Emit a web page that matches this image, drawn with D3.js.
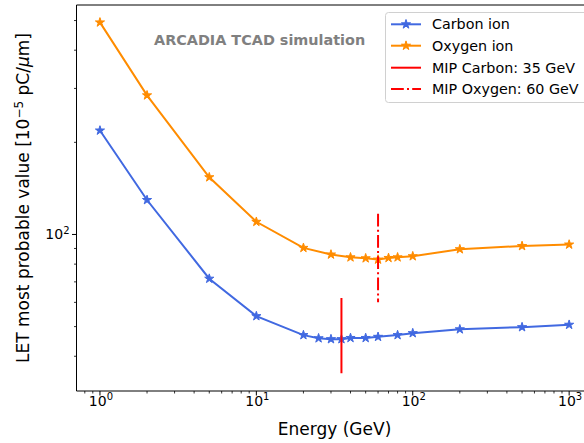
<!DOCTYPE html>
<html><head><meta charset="utf-8">
<script src="https://cdn.jsdelivr.net/npm/d3@7"></script>
<style>body{margin:0;background:#fff}svg{display:block;font-family:"DejaVu Sans",sans-serif}</style>
</head><body><svg id="c" width="584" height="443"></svg>
<script>
const carbonE = [1,2,5,10,20,25,30,35,40,50,60,80,100,200,500,1000];
const carbonLET = [218.6,129.6,71.7,54.1,46.9,45.8,45.5,45.5,45.9,45.9,46.3,46.9,47.6,49.0,49.8,50.7];
const oxygenE = [1,2,5,10,20,30,40,50,60,70,80,100,200,500,1000];
const oxygenLET = [493,284.8,153.8,110.0,90.4,86.0,84.2,83.6,82.8,83.8,84.2,84.9,89.5,91.7,92.7];
const mipCarbon = {E:35, lo:35.2, hi:62.0};
const mipOxygen = {E:60, lo:60.1, hi:116.8};
const xTickVals = [1,10,100,1000];
const yTickVals = [100];
const legendLabels = ["Carbon ion","Oxygen ion","MIP Carbon: 35 GeV","MIP Oxygen: 60 GeV"];

const svg = d3.select("#c");
const L=76.5, R=592.6, T=5, B=391;
const x = d3.scaleLog().domain([Math.pow(10,-0.15), Math.pow(10,3.15)]).range([L,R]);
const y = d3.scaleLog().domain([30.8, 562]).range([B,T]);

const xMinor=[]; for(let d=0.1; d<=1000; d*=10) for(let k=2;k<=9;k++){const v=d*k; if(v>x.domain()[0]&&v<x.domain()[1]) xMinor.push(v);}
const yMinor=[]; for(let d=10; d<=100; d*=10) for(let k=2;k<=9;k++){const v=d*k; if(v>y.domain()[0]&&v<y.domain()[1]) yMinor.push(v);}

const g = svg.append("g");
g.append("path").attr("d",`M${L},${T}V${B}H${R+5}`).attr("fill","none").attr("stroke","#000").attr("stroke-width",1);
g.append("line").attr("x1",L).attr("x2",R+5).attr("y1",T).attr("y2",T).attr("stroke","#000").attr("stroke-width",1);

g.selectAll(".xmaj").data(xTickVals).join("line").attr("x1",d=>x(d)).attr("x2",d=>x(d)).attr("y1",B).attr("y2",B+4.5).attr("stroke","#000").attr("stroke-width",1);
g.selectAll(".xmin").data(xMinor).join("line").attr("x1",d=>x(d)).attr("x2",d=>x(d)).attr("y1",B).attr("y2",B+2.5).attr("stroke","#000").attr("stroke-width",0.8);
xTickVals.forEach(v=>{
  const t=g.append("text").attr("x",x(v)+1).attr("y",405.5).attr("text-anchor","middle").attr("font-size",14).attr("fill","#000");
  t.append("tspan").text("10");
  t.append("tspan").attr("dy",-5.5).attr("font-size",10).text(Math.round(Math.log10(v)));
});
g.selectAll(".ymaj").data(yTickVals).join("line").attr("x1",L-4.5).attr("x2",L).attr("y1",d=>y(d)).attr("y2",d=>y(d)).attr("stroke","#000").attr("stroke-width",1);
g.selectAll(".ymin").data(yMinor).join("line").attr("x1",L-2.5).attr("x2",L).attr("y1",d=>y(d)).attr("y2",d=>y(d)).attr("stroke","#000").attr("stroke-width",0.8);
yTickVals.forEach(v=>{
  const t=g.append("text").attr("x",L-7).attr("y",y(v)+5).attr("text-anchor","end").attr("font-size",14).attr("fill","#000");
  t.append("tspan").text("10");
  t.append("tspan").attr("dy",-5.5).attr("font-size",10).text(Math.round(Math.log10(v)));
});

g.append("text").attr("x",(L+R)/2).attr("y",435).attr("text-anchor","middle").attr("font-size",17).text("Energy (GeV)");
const yl = g.append("text").attr("transform",`translate(29,${(T+B)/2}) rotate(-90)`).attr("text-anchor","middle").attr("font-size",17);
yl.append("tspan").text("LET most probable value [10");
yl.append("tspan").attr("dy",-6.5).attr("font-size",12).text("−5");
yl.append("tspan").attr("dy",6.5).text(" pC/");
yl.append("tspan").attr("font-style","italic").text("μ");
yl.append("tspan").text("m]");

g.append("text").attr("x",154).attr("y",44.5).attr("font-size",14.4).attr("font-weight","bold").attr("fill","#808080").text("ARCADIA TCAD simulation");

svg.append("defs").append("clipPath").attr("id","pc").append("rect").attr("x",L).attr("y",T).attr("width",R-L).attr("height",B-T);
const pg = svg.append("g").attr("clip-path","url(#pc)");

const line = d3.line().x(d=>x(d[0])).y(d=>y(d[1]));
const star = d3.symbol().type(d3.symbolStar).size(26);
function series(E,V,col){
  const pts = E.map((e,i)=>[e,V[i]]);
  pg.append("path").datum(pts).attr("d",line).attr("fill","none").attr("stroke",col).attr("stroke-width",2);
  pg.selectAll(null).data(pts).join("path").attr("d",star).attr("transform",d=>`translate(${x(d[0])},${y(d[1])})`).attr("fill",col).attr("stroke",col).attr("stroke-width",1);
}
series(carbonE,carbonLET,"#4169E1");
series(oxygenE,oxygenLET,"#FF8C00");

pg.append("line").attr("x1",x(mipCarbon.E)).attr("x2",x(mipCarbon.E)).attr("y1",y(mipCarbon.lo)).attr("y2",y(mipCarbon.hi)).attr("stroke","#FF0000").attr("stroke-width",2);
pg.append("line").attr("x1",x(mipOxygen.E)).attr("x2",x(mipOxygen.E)).attr("y1",y(mipOxygen.hi)).attr("y2",y(mipOxygen.lo)).attr("stroke","#FF0000").attr("stroke-width",2).attr("stroke-dasharray","12.8,3.2,2,3.2");

const lg = svg.append("g");
lg.append("rect").attr("x",385.5).attr("y",12.5).attr("width",220).attr("height",90).attr("rx",3).attr("fill","#fff").attr("fill-opacity",0.8).attr("stroke","#d0d0d0").attr("stroke-width",1);
const rowsY=[24.3,45.7,67.7,89];
const cols=["#4169E1","#FF8C00","#FF0000","#FF0000"];
legendLabels.forEach((lab,i)=>{
  const ly=rowsY[i];
  const ln=lg.append("line").attr("x1",391).attr("x2",421).attr("y1",ly).attr("y2",ly).attr("stroke",cols[i]).attr("stroke-width",2);
  if(i===3) ln.attr("stroke-dasharray","12.8,3.2,2,3.2");
  if(i<2) lg.append("path").attr("d",star).attr("transform",`translate(406,${ly})`).attr("fill",cols[i]).attr("stroke",cols[i]).attr("stroke-width",1);
  lg.append("text").attr("x",432).attr("y",ly+5).attr("font-size",14.3).text(lab);
});
</script></body></html>
